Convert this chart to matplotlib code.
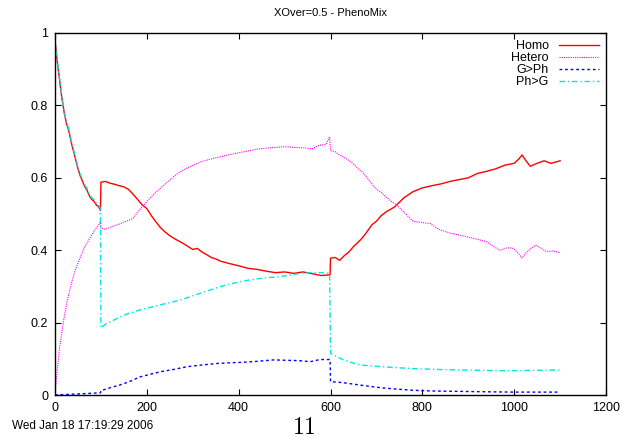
import matplotlib
matplotlib.use("Agg")
import matplotlib.pyplot as plt

plt.rcParams['font.family'] = ['Liberation Sans', 'DejaVu Sans']
plt.rcParams['mathtext.fontset'] = 'cm'

# Homo
homo_x = [0, 5, 10, 15, 20, 25, 30, 35, 40, 45, 50, 55, 60, 65, 70, 75, 80, 85, 90, 95, 99,
          100, 110, 120, 130, 140, 150, 160, 170, 180, 190, 200, 210, 220, 230, 240, 250, 260,
          270, 280, 290, 300, 310, 320, 330, 340, 350, 360, 380, 400, 420, 440, 460, 480, 500,
          520, 540, 560, 580, 599, 600, 610, 620, 630, 640, 650, 660, 670, 680, 690, 700, 710,
          720, 740, 760, 780, 800, 820, 840, 860, 880, 900, 920, 940, 960, 980, 1000, 1010,
          1017, 1025, 1035, 1050, 1065, 1080, 1100]
homo_y = [0.98, 0.92, 0.87, 0.82, 0.78, 0.75, 0.73, 0.70, 0.675, 0.65, 0.625, 0.605, 0.59,
          0.575, 0.565, 0.55, 0.54, 0.535, 0.525, 0.52, 0.51,
          0.588, 0.59, 0.585, 0.582, 0.578, 0.575, 0.568, 0.555, 0.54, 0.525, 0.515, 0.495,
          0.478, 0.462, 0.45, 0.44, 0.432, 0.425, 0.418, 0.41, 0.402, 0.405, 0.395, 0.388,
          0.38, 0.376, 0.37, 0.363, 0.357, 0.35, 0.347, 0.342, 0.338, 0.34, 0.336, 0.34,
          0.335, 0.33, 0.332, 0.378, 0.38, 0.372, 0.385, 0.395, 0.41, 0.422, 0.435, 0.452,
          0.47, 0.48, 0.495, 0.505, 0.52, 0.545, 0.562, 0.572, 0.578, 0.583, 0.59, 0.595,
          0.6, 0.612, 0.618, 0.625, 0.635, 0.64, 0.652, 0.663, 0.648, 0.632, 0.64, 0.647,
          0.64, 0.647]

# Hetero
het_x = [0, 2, 5, 10, 15, 20, 25, 30, 35, 40, 45, 50, 55, 60, 65, 70, 75, 80, 85, 90, 95, 99,
         100, 110, 120, 130, 140, 150, 160, 170, 180, 190, 200, 210, 220, 230, 240, 250, 260,
         270, 280, 290, 300, 320, 340, 360, 380, 400, 420, 440, 460, 480, 500, 520, 540, 560,
         575, 590, 598, 600, 610, 620, 630, 640, 650, 660, 670, 680, 690, 700, 710, 720, 730,
         744, 760, 773, 780, 800, 817, 830, 839, 861, 880, 897, 920, 941, 955, 969, 985, 998,
         1010, 1017, 1028, 1046, 1060, 1071, 1085, 1100]
het_y = [0.0, 0.03, 0.07, 0.13, 0.175, 0.215, 0.25, 0.278, 0.305, 0.328, 0.348, 0.365, 0.38,
         0.395, 0.41, 0.42, 0.432, 0.442, 0.452, 0.462, 0.47, 0.478,
         0.46, 0.458, 0.463, 0.468, 0.472, 0.478, 0.482, 0.488, 0.505, 0.52, 0.534, 0.548,
         0.56, 0.572, 0.583, 0.594, 0.605, 0.614, 0.622, 0.628, 0.634, 0.645, 0.652, 0.658,
         0.664, 0.669, 0.674, 0.679, 0.682, 0.684, 0.686, 0.684, 0.683, 0.68, 0.69, 0.692,
         0.714, 0.675, 0.672, 0.663, 0.656, 0.648, 0.638, 0.625, 0.615, 0.6, 0.583, 0.568,
         0.56, 0.548, 0.537, 0.525, 0.505, 0.488, 0.48, 0.476, 0.474, 0.462, 0.456, 0.447,
         0.442, 0.437, 0.43, 0.423, 0.41, 0.40, 0.407, 0.405, 0.39, 0.378, 0.396, 0.414,
         0.404, 0.396, 0.398, 0.393]

# G>Ph
gph_x = [0, 50, 99, 100, 120, 142, 160, 185, 210, 229, 260, 287, 320, 352, 380, 403, 440,
         476, 500, 530, 556, 577, 599, 600, 628, 650, 679, 710, 737, 780, 824, 880, 933,
         1000, 1100]
gph_y = [0.0, 0.003, 0.006, 0.012, 0.02, 0.028, 0.036, 0.05, 0.058, 0.064, 0.071, 0.078,
         0.083, 0.087, 0.089, 0.09, 0.093, 0.097, 0.096, 0.095, 0.092, 0.098, 0.098, 0.037,
         0.034, 0.03, 0.025, 0.02, 0.017, 0.013, 0.011, 0.01, 0.009, 0.008, 0.008]

# Ph>G
phg_x = [0, 5, 10, 15, 20, 25, 30, 35, 40, 45, 50, 55, 60, 65, 70, 75, 80, 85, 90, 95, 99,
         100, 110, 125, 142, 160, 185, 210, 229, 250, 272, 295, 316, 340, 359, 380, 403, 425,
         447, 470, 490, 510, 534, 555, 577, 598, 600, 615, 628, 645, 664, 690, 737, 780, 824,
         880, 930, 984, 1040, 1100]
phg_y = [0.985, 0.925, 0.875, 0.825, 0.785, 0.755, 0.735, 0.705, 0.68, 0.655, 0.63, 0.61,
         0.595, 0.58, 0.57, 0.555, 0.545, 0.54, 0.53, 0.525, 0.515,
         0.185, 0.196, 0.205, 0.216, 0.225, 0.235, 0.243, 0.249, 0.255, 0.262, 0.272, 0.281,
         0.291, 0.299, 0.306, 0.313, 0.318, 0.322, 0.325, 0.327, 0.331, 0.336, 0.338, 0.338,
         0.336, 0.115, 0.105, 0.097, 0.09, 0.083, 0.08, 0.076, 0.073, 0.071, 0.069, 0.068,
         0.067, 0.068, 0.069]

fig = plt.figure(figsize=(6.22, 4.37), dpi=100)
ax = fig.add_axes([0.0884, 0.0961, 0.886, 0.8284])

ax.plot(homo_x, homo_y, color='#ff0000', lw=1.0, label='Homo')
ax.plot(het_x, het_y, color='#ff00ff', lw=0.8, ls=(0, (1, 1)), label='Hetero')
ax.plot(gph_x, gph_y, color='#0000ff', lw=1.0, ls=(0, (2, 2)), label='G>Ph')
ax.plot(phg_x, phg_y, color='#00e5e5', lw=1.0, ls=(0, (4, 2, 1, 2)), label='Ph>G')

ax.set_xlim(0, 1200)
ax.set_ylim(0, 1)
ax.set_xticks([0, 200, 400, 600, 800, 1000, 1200])
ax.set_yticks([0, 0.2, 0.4, 0.6, 0.8, 1])
ax.set_yticklabels(['0', '0.2', '0.4', '0.6', '0.8', '1'])
ax.tick_params(direction='in', top=True, right=True, length=4, width=0.8, labelsize=9,
               pad=5)
for s in ax.spines.values():
    s.set_linewidth(1.0)

ax.set_title('XOver=0.5 - PhenoMix', fontsize=8, pad=12)
ax.legend(loc='upper right', frameon=False, markerfirst=False, fontsize=9,
          handlelength=3.2, handletextpad=0.8, labelspacing=0.0,
          borderaxespad=0.2)

fig.text(0.019, 0.018, 'Wed Jan 18 17:19:29 2006', fontsize=8.5)
fig.text(0.469, 0.008, r'$11$', fontsize=17)

fig.savefig('out.png', dpi=100)
